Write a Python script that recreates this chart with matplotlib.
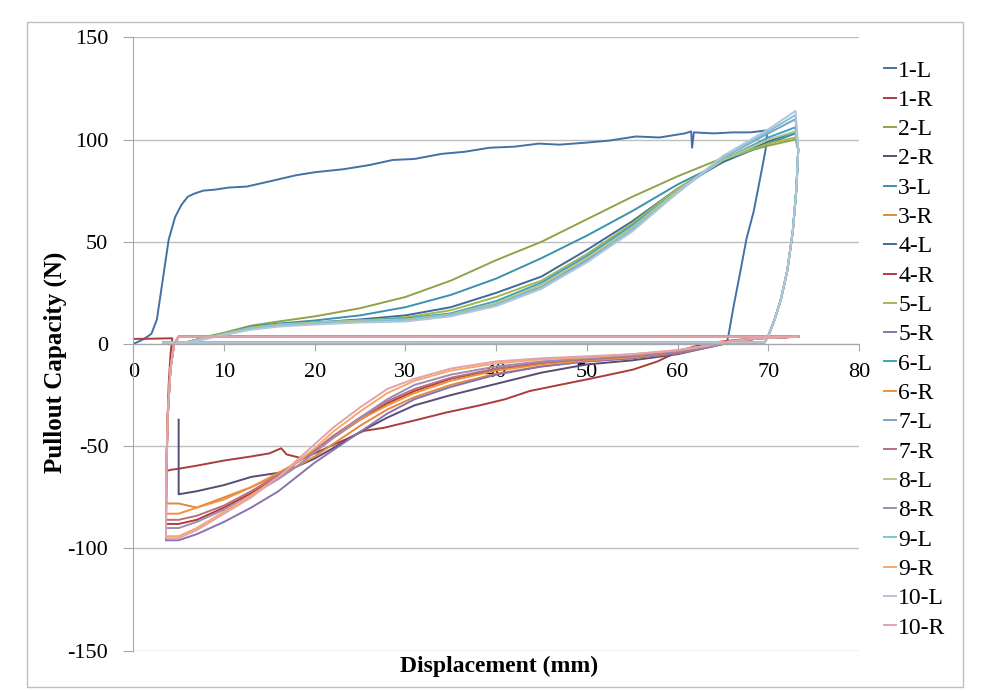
import matplotlib
matplotlib.use("Agg")
import matplotlib.pyplot as plt
from matplotlib.patches import Rectangle

plt.rcParams["font.family"] = ["Liberation Serif", "DejaVu Serif"]
plt.rcParams["axes.unicode_minus"] = False

# ---- data (displacement mm, pullout capacity N) ----
LABELS = ["1-L", "1-R", "2-L", "2-R", "3-L", "3-R", "4-L", "4-R", "5-L", "5-R",
          "6-L", "6-R", "7-L", "7-R", "8-L", "8-R", "9-L", "9-R", "10-L", "10-R"]
COLORS = ["#4470A8", "#A93D39", "#8FA348", "#5A4A78", "#3A93AC", "#E08A3C",
          "#3F68A0", "#B53A3A", "#A4B84E", "#8A72B0", "#3FA3C0", "#F0913F",
          "#7EA0CC", "#B8707A", "#B3C68A", "#9C8CB8", "#7CC3D6", "#F6A868",
          "#B5C4DB", "#E2A3AB"]

# specimen 1-L (rises immediately, plateau ~100 N)
X_1L = [0, 1.2, 2.0, 2.6, 3.2, 3.9, 4.6, 5.3, 6.0, 6.7, 7.7, 9, 10.5, 12.5, 15, 17.9,
        20, 23.2, 26, 28.6, 31, 34, 36.5, 39.3, 42, 44.7, 47, 50, 52.5, 55.4, 58,
        60.8, 61.5, 61.6, 61.8, 64, 66.1, 68, 69.9, 69.7, 69.1, 68.4, 67.6, 66.9,
        66.2, 65.6, 65.4]
Y_1L = [0, 2.5, 5, 12, 30, 51, 62, 68, 72, 73.5, 75, 75.5, 76.5, 77, 79.5, 82.5,
        84, 85.5, 87.5, 90, 90.5, 93, 94, 96, 96.5, 98, 97.5, 98.5, 99.5, 101.5, 101,
        103, 104, 96, 103.5, 103, 103.5, 103.5, 104.5, 95, 81, 65, 51.5, 35,
        19, 4, 0]

# specimen 1-R
X_1R = [0, 2, 4.3, 4.1, 3.9, 3.75, 3.7, 4.2, 5, 7, 10, 13, 15, 16.3, 16.9, 18.7,
        20, 21.7, 23.5, 25.4, 27.6, 30.9, 34.5, 38.2, 41, 43.7, 47, 49.8, 52.5,
        55.1, 57.8, 60.4, 62.5, 64.5, 66.5, 69, 73.3]
Y_1R = [2.5, 2.6, 2.8, -5, -20, -40, -62, -61.5, -61, -59.5, -57, -55, -53.5, -51,
        -54, -56, -53.5, -50, -46.5, -42.5, -41, -37.5, -33.5, -30, -27, -23, -20,
        -17.5, -15, -12.5, -8.5, -3, -0.5, 1, 2, 2.8, 3.5]

# L specimens 2..10: loading branch on a common displacement grid
XL = [4, 6, 8, 10, 13, 16, 20, 25, 30, 35, 40, 45, 50, 55, 60, 65, 70, 73]
Y_2L = [0, 1, 3.5, 5.5, 9, 11, 13.5, 17.5, 23, 31, 41, 50, 61, 72, 82, 91, 97, 100]
Y_3L = [0, 1, 3, 5, 8.5, 10, 11.5, 14, 18, 24, 32, 42, 53, 65, 78, 89, 98, 103]
Y_4L = [0, 1, 3, 5, 8, 9.5, 10.5, 12, 14, 18, 25, 33, 46, 60, 76, 89, 99, 104]
Y_5L = [0, 1, 3, 5, 8, 9.5, 10.5, 11.5, 13, 16.5, 23, 31, 44, 59, 76, 90, 98, 101]
Y_6L = [0, 1, 3, 5, 8, 9.5, 10.5, 11.5, 12.5, 15, 21, 30, 43, 58, 75, 90, 101, 106]
Y_7L = [0, 1, 3, 4.5, 7.5, 9, 10, 11, 11.5, 14, 19.5, 28, 41, 56, 75, 91, 103, 110]
Y_8L = [0, 1, 3, 5, 8, 9.5, 10.5, 11.5, 12, 14.5, 20, 29, 42, 57, 75, 90, 100, 104]
Y_9L = [0, 1, 2.5, 4.5, 7.5, 9, 10, 11, 11.5, 14, 19, 27.5, 40, 56, 74, 91, 104, 112]
Y_10L = [0, 0.8, 2.5, 4.5, 7, 8.5, 9.5, 10.5, 11, 13.5, 18.5, 27, 40, 55, 74, 92, 105, 114]
# unloading branch and return along the baseline
DROP_X = [73.3, 73.1, 72.7, 72.1, 71.4, 70.7, 70.0, 69.6, 3.3]
DROP_Y = [95, 76, 55, 36, 22, 12, 4, 0.8, 0.7]

# R specimens 2..10: return along ~3.6 N, spike down, then reloading branch
SPIKE_X = [73.3, 5.0, 4.5, 4.1, 3.8, 3.65]
SPIKE_Y = [3.6, 3.6, 0, -12, -35, -60]
XR = [5, 7, 10, 13, 16, 18, 20, 22, 25, 28, 31, 35, 40, 45, 50, 55, 60, 63, 66, 69, 73.3]
Y_2R = [-73.5, -72, -69, -65, -63, -60, -56, -51, -43, -36, -30, -25, -19.5, -14, -10, -8, -5, -2, 1, 2.8, 3.6]
Y_3R = [-78, -80, -75, -70, -64, -60, -55, -49, -40, -32, -26, -20, -14.5, -11, -8.5, -7, -4.5, -2, 1, 2.8, 3.6]
Y_4R = [-88, -86, -80, -73, -65, -58, -52, -46, -37, -29, -23, -17, -12.5, -9.5, -7.5, -6, -4, -1.5, 1, 2.8, 3.6]
Y_5R = [-96, -93, -87, -80, -72, -65, -58, -52, -43, -34, -27, -21, -15, -11, -8.5, -7, -4.5, -2, 1, 2.8, 3.6]
Y_6R = [-83, -80, -76, -70, -63, -58, -52, -46, -37, -30, -24, -18, -13, -10, -8, -6.5, -4, -1.5, 1, 2.8, 3.6]
Y_7R = [-86, -84, -79, -72, -64, -58, -52, -45, -36, -28, -22, -16.5, -12, -9, -7.5, -6, -4, -1.5, 1, 2.8, 3.6]
Y_8R = [-90, -87, -81, -74, -66, -60, -53, -46, -36, -27, -20, -15, -11, -8.5, -7, -5.5, -3.5, -1.5, 1.2, 2.8, 3.6]
Y_9R = [-94, -90, -82, -74, -65, -58, -51, -43, -33, -24, -18, -13, -9.5, -7.5, -6.5, -5, -3, -1, 1.5, 2.8, 3.6]
Y_10R = [-95, -91, -83, -75, -65, -57, -49, -41, -31, -22, -17, -12, -8.5, -7, -6, -5, -3, -1, 1.5, 2.8, 3.6]
TOP_2R = -37  # 2-R starts with a vertical jump at x = 5

W, H = 990, 692
fig = plt.figure(figsize=(W / 100, H / 100), dpi=100)
fig.add_artist(Rectangle((27 / W, 1 - 687 / H), 936 / W, 665 / H, transform=fig.transFigure,
                         fill=False, ec="#BFBFBF", lw=1))
ax = fig.add_axes([133.3 / W, 1 - 650.7 / H, 725.7 / W, 613.4 / H])

series = []
for lab in LABELS:
    n, side = lab.split("-")
    if lab == "1-L":
        xs, ys = X_1L, Y_1L
    elif lab == "1-R":
        xs, ys = X_1R, Y_1R
    elif side == "L":
        yl = globals()[f"Y_{n}L"]
        xs, ys = XL + DROP_X, yl + DROP_Y
    elif lab == "2-R":
        xs, ys = [XR[0]] + XR, [TOP_2R] + Y_2R
    else:
        yr = globals()[f"Y_{n}R"]
        xs, ys = SPIKE_X + [3.6] + XR, SPIKE_Y + [yr[0]] + yr
    series.append((xs, ys))

lw = 1.4
for (xs, ys), lab, c in zip(series, LABELS, COLORS):
    ax.plot(xs, ys, color=c, lw=lw, label=lab, solid_joinstyle="round")

ax.set_xlim(0, 80)
ax.set_ylim(-150, 150)
ax.set_xticks(range(0, 81, 10))
ax.set_yticks(range(-150, 151, 50))
ax.yaxis.grid(True, color="#BFBFBF", lw=1)
ax.set_axisbelow(True)
for s in ["top", "right"]:
    ax.spines[s].set_visible(False)
ax.spines["bottom"].set_position(("data", 0))
for s in ["left", "bottom"]:
    ax.spines[s].set_color("#A6A6A6")
ax.tick_params(axis="x", direction="out", length=5, color="#A6A6A6", labelsize=16, pad=9)
ax.tick_params(axis="y", direction="out", length=7, color="#A6A6A6", labelsize=16, pad=11)

fig.text(55 / W, 1 - 362 / H, "Pullout Capacity (N)", rotation=90, ha="center", va="center",
         fontsize=18, fontweight="bold")
fig.text(499 / W, 1 - 666 / H, "Displacement (mm)", ha="center", va="center",
         fontsize=17, fontweight="bold")

fig.legend(loc="upper left", bbox_to_anchor=(884 / W, 1 - 60 / H), frameon=False,
           fontsize=17, handlelength=0.5, handletextpad=0.1, labelspacing=0.33,
           borderpad=0, borderaxespad=0)

fig.savefig("out.png", dpi=100)
